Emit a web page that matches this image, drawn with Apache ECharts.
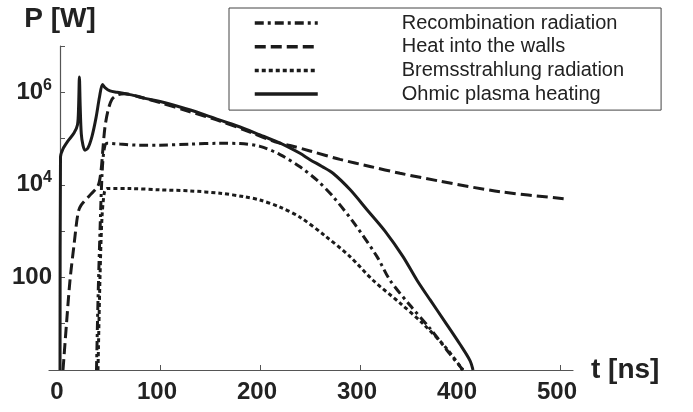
<!DOCTYPE html>
<html>
<head>
<meta charset="utf-8">
<script src="https://cdn.jsdelivr.net/npm/echarts@6/dist/echarts.min.js"></script>
<style>
  html, body { margin: 0; padding: 0; background: #fff; }
  #chart { width: 693px; height: 412px; }
</style>
</head>
<body>
<div id="chart"></div>
<script>
// Time axis (ns) and power (W) for each loss / heating channel
const seriesNames = [
  'Recombination radiation',
  'Heat into the walls',
  'Bremsstrahlung radiation',
  'Ohmic plasma heating'
];

const tRecomb = [36.5, 38, 40, 42, 44, 47, 60, 80, 100, 130, 160, 180, 200, 220, 240, 257, 273, 295, 317, 330, 350, 370, 390, 403];
const pRecomb = [1, 32, 1e3, 1.6e4, 5.6e4, 7.9e4, 7.6e4, 7.2e4, 7.2e4, 7.6e4, 7.9e4, 7.8e4, 6.8e4, 4.5e4, 2.45e4, 1.26e4, 5.6e3, 1.4e3, 282, 87, 25, 7.9, 2.2, 1];

const tHeat = [3, 6.5, 10, 14, 18, 21, 30, 38, 41, 43, 45, 48, 52, 58, 65, 80, 100, 130, 160, 190, 215, 230, 250, 280, 310, 340, 380, 440, 505];
const pHeat = [1, 10, 87, 500, 2.45e3, 3.6e3, 6.0e3, 9.5e3, 2.0e4, 6.3e4, 1.8e5, 4.0e5, 7.1e5, 8.9e5, 9.3e5, 7.9e5, 6.0e5, 3.8e5, 2.4e5, 1.38e5, 8.5e4, 7.1e4, 5.4e4, 3.55e4, 2.5e4, 1.78e4, 1.2e4, 7.1e3, 5.0e3];

const tBrems = [38, 40, 42, 44.5, 47, 70, 100, 130, 160, 185, 200, 220, 240, 265, 290, 313, 340, 363, 385, 403];
const pBrems = [1, 100, 2.0e3, 7.1e3, 8.3e3, 8.3e3, 7.8e3, 7.4e3, 6.6e3, 5.5e3, 4.7e3, 3.3e3, 2.0e3, 794, 282, 87, 28, 10, 3.2, 1];

const tOhmic = [0, 0.5, 3, 8, 14, 17.5, 18.6, 19.4, 20.2, 21.3, 23, 25, 28, 32, 36, 39.5, 42.5, 45, 50, 57, 70, 85, 100, 120, 140, 160, 180, 200, 215, 227, 240, 250, 262, 273, 290, 307, 325, 343, 357, 370, 385, 400, 410, 413];
const pOhmic = [1, 4.0e4, 6.0e4, 8.9e4, 1.32e5, 2.0e5, 5.0e5, 2.14e6, 5.0e5, 1.26e5, 7.1e4, 5.6e4, 6.3e4, 1.12e5, 2.8e5, 7.9e5, 1.48e6, 1.26e6, 1.07e6, 1.0e6, 8.9e5, 7.4e5, 6.3e5, 4.8e5, 3.55e5, 2.5e5, 1.78e5, 1.2e5, 8.9e4, 6.8e4, 4.8e4, 3.5e4, 2.5e4, 1.78e4, 7.9e3, 2.9e3, 1.0e3, 282, 87, 33, 11, 3.6, 1.6, 1];

// Axis ticks
const xTickValues = [0, 100, 200, 300, 400, 500];
const yTickValues = [1, 10, 100, 1e3, 1e4, 1e5, 1e6, 1e7];
const yLabelValues = [100, 1e4, 1e6];

function pairs(t, p) {
  return t.map((v, i) => [v, p[i]]);
}

const ink = '#1b1b1b';
const dashStyles = [
  [9, 4, 3, 4],   // dash-dot
  [11, 5],        // dashed
  [4, 3],         // dotted
  'solid'
];
const dataSets = [
  pairs(tRecomb, pRecomb),
  pairs(tHeat, pHeat),
  pairs(tBrems, pBrems),
  pairs(tOhmic, pOhmic)
];

const chart = echarts.init(document.getElementById('chart'), null, { renderer: 'canvas' });

chart.setOption({
  animation: false,
  backgroundColor: '#fff',
  textStyle: { fontFamily: 'Liberation Sans, Arial, sans-serif' },
  grid: { left: 49, right: 120, top: 46, bottom: 42, containLabel: false },
  legend: {
    orient: 'vertical',
    left: 229,
    top: 8,
    itemWidth: 63,
    itemHeight: 14,
    itemGap: 3.7,
    padding: [5, 37, 6, 24],
    borderColor: '#444',
    borderWidth: 1,
    backgroundColor: '#fff',
    selectedMode: false,
    itemStyle: { opacity: 0 },
    lineStyle: { width: 3.5 },
    textStyle: {
      fontSize: 20,
      color: '#222',
      lineHeight: 20,
      padding: [0, 0, 0, 79]
    },
    data: seriesNames
  },
  xAxis: {
    type: 'value',
    min: -11,
    max: 513,
    name: 't [ns]',
    nameLocation: 'end',
    nameGap: 18,
    nameTextStyle: { fontSize: 28, fontWeight: 'bold', color: '#222', verticalAlign: 'middle', padding: [4, 0, 0, 0] },
    axisLine: { onZero: false, lineStyle: { color: '#555', width: 1.2 } },
    axisTick: { inside: true, length: 5, customValues: xTickValues, lineStyle: { color: '#555' } },
    axisLabel: {
      customValues: xTickValues,
      fontSize: 24,
      fontWeight: 'bold',
      color: '#222',
      margin: 10,
      padding: [0, 6, 0, 0]
    },
    splitLine: { show: false }
  },
  yAxis: {
    type: 'log',
    logBase: 10,
    min: 1,
    max: 1e7,
    name: 'P [W]',
    nameLocation: 'end',
    nameGap: 13,
    nameTextStyle: { fontSize: 28, fontWeight: 'bold', color: '#222', align: 'center' },
    axisLine: { onZero: true, lineStyle: { color: '#555', width: 1.2 } },
    axisTick: { inside: true, length: 5, customValues: yTickValues, lineStyle: { color: '#555' } },
    axisLabel: {
      customValues: yLabelValues,
      margin: -3,
      color: '#222',
      fontSize: 24,
      fontWeight: 'bold',
      formatter: function (v) {
        if (v === 100) return '{b|100}';
        const e = Math.round(Math.log10(v));
        return '{b|10}{s|' + e + '}';
      },
      rich: {
        b: { fontSize: 24, fontWeight: 'bold', color: '#222' },
        s: { fontSize: 16, fontWeight: 'bold', color: '#222', padding: [0, 0, 14, 0] }
      }
    },
    splitLine: { show: false }
  },
  series: seriesNames.map((name, i) => ({
    name: name,
    type: 'line',
    symbol: 'none',
    smooth: 0.3,
    clip: true,
    z: 3 + (i === 3 ? 1 : 0),
    lineStyle: { color: ink, width: 3, type: dashStyles[i] },
    itemStyle: { color: ink },
    data: dataSets[i]
  }))
});
</script>
</body>
</html>
